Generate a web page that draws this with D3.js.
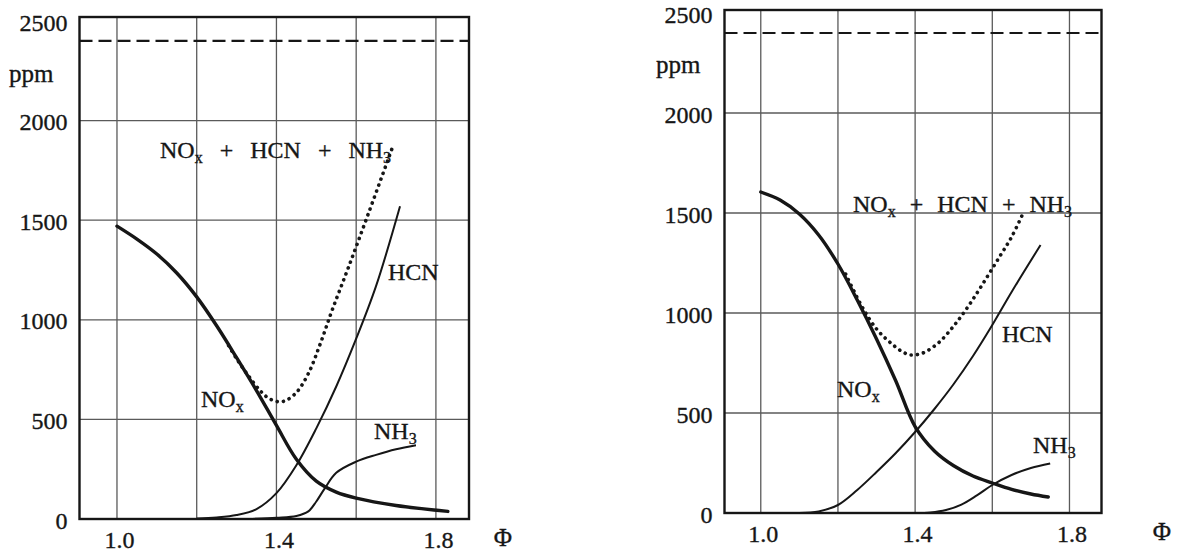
<!DOCTYPE html>
<html>
<head>
<meta charset="utf-8">
<script src="https://cdn.jsdelivr.net/npm/d3@7"></script>
<style>
  html, body { margin: 0; padding: 0; background: #fff; }
  svg { display: block; }
  text { font-family: "Liberation Serif", "Times New Roman", serif; fill: #161616; stroke: #161616; stroke-width: 0.35px; }
</style>
</head>
<body>
<svg id="chart" width="1181" height="555"></svg>
<script>
// ---------- DATA ----------
const yTicks = [0, 500, 1000, 1500, 2000, 2500];
const yGrid = [500, 1000, 1500, 2000];
const xTickLabels = [1.0, 1.4, 1.8];
const xGrid = [1.0, 1.2, 1.4, 1.6, 1.8];

// Left panel
const noxA_phi = [1.0, 1.05, 1.1, 1.15, 1.2, 1.25, 1.3, 1.35, 1.4, 1.45, 1.5, 1.55, 1.6, 1.7, 1.83];
const noxA     = [1470, 1405, 1330, 1235, 1115, 970, 810, 645, 470, 300, 190, 135, 105, 68, 38];
const hcnA_phi = [1.2, 1.25, 1.3, 1.35, 1.4, 1.45, 1.5, 1.55, 1.6, 1.65, 1.71];
const hcnA     = [3, 8, 20, 50, 130, 270, 455, 665, 905, 1170, 1570];
const nh3A_phi = [1.33, 1.4, 1.45, 1.48, 1.5, 1.52, 1.55, 1.6, 1.65, 1.7, 1.75];
const nh3A     = [0, 6, 15, 38, 88, 150, 232, 288, 322, 350, 370];
const sumA_phi = [1.28, 1.3, 1.33, 1.36, 1.38, 1.4, 1.42, 1.45, 1.48, 1.51, 1.54, 1.58, 1.63, 1.69];
const sumA     = [870, 805, 718, 642, 607, 590, 592, 635, 730, 880, 1050, 1260, 1530, 1860];
const limitA = 2400;

// Right panel
const noxB_phi = [1.0, 1.05, 1.1, 1.15, 1.2, 1.25, 1.3, 1.35, 1.4, 1.45, 1.5, 1.55, 1.6, 1.65, 1.7, 1.745];
const noxB     = [1605, 1565, 1495, 1390, 1245, 1065, 870, 660, 432, 310, 236, 185, 150, 118, 95, 80];
const hcnB_phi = [1.1, 1.15, 1.2, 1.25, 1.3, 1.35, 1.4, 1.45, 1.5, 1.55, 1.6, 1.65, 1.725];
const hcnB     = [0, 8, 40, 115, 205, 300, 405, 520, 645, 785, 940, 1105, 1340];
const nh3B_phi = [1.4, 1.44, 1.48, 1.52, 1.56, 1.6, 1.65, 1.7, 1.75];
const nh3B     = [0, 3, 15, 42, 88, 140, 190, 225, 248];
const sumB_phi = [1.22, 1.26, 1.3, 1.34, 1.37, 1.39, 1.42, 1.46, 1.5, 1.54, 1.58, 1.62, 1.65, 1.68];
const sumB     = [1195, 1040, 920, 845, 803, 790, 800, 850, 935, 1040, 1160, 1285, 1380, 1500];
const limitB = 2400;

// ---------- DRAWING ----------
const svg = d3.select("#chart");
const ink = "#161616", gridInk = "#5a5a5a";

function panel(cfg) {
  const x = d3.scaleLinear().domain([0.906, 1.883]).range([cfg.x0, cfg.x1]);
  const y = d3.scaleLinear().domain([0, 2500]).range([cfg.y0, cfg.y2500]);
  const yTop = y(cfg.frameTop);
  const g = svg.append("g");

  // grid
  g.selectAll(".vg").data(xGrid).join("line")
    .attr("x1", d => x(d)).attr("x2", d => x(d))
    .attr("y1", y(0)).attr("y2", yTop)
    .attr("stroke", gridInk).attr("stroke-width", 1.3);
  g.selectAll(".hg").data(yGrid).join("line")
    .attr("x1", x.range()[0]).attr("x2", x.range()[1])
    .attr("y1", d => y(d)).attr("y2", d => y(d))
    .attr("stroke", gridInk).attr("stroke-width", 1.3);

  // axes (labels only, no tick marks)
  const yAxis = d3.axisLeft(y).tickValues(yTicks).tickSize(0).tickPadding(12).tickFormat(d3.format("d"));
  const ya = g.append("g").attr("transform", `translate(${cfg.x0},0)`).call(yAxis);
  ya.select(".domain").remove();
  ya.selectAll("text").attr("font-size", 24).attr("font-family", "Liberation Serif").attr("fill", ink)
    .attr("dy", "0.38em");

  const xAxis = d3.axisBottom(x).tickValues(xTickLabels).tickSize(0).tickPadding(12).tickFormat(d3.format(".1f"));
  const xa = g.append("g").attr("transform", `translate(0,${cfg.y0})`).call(xAxis);
  xa.select(".domain").remove();
  xa.selectAll("text").attr("font-size", 24).attr("font-family", "Liberation Serif").attr("fill", ink)
    .attr("dx", 2);

  // frame
  g.append("rect").attr("x", cfg.x0).attr("y", yTop)
    .attr("width", cfg.x1 - cfg.x0).attr("height", cfg.y0 - yTop)
    .attr("fill", "none").attr("stroke", ink).attr("stroke-width", 2.4);

  // dashed limit line
  g.append("line").attr("x1", cfg.x0).attr("x2", cfg.x1)
    .attr("y1", y(cfg.limit)).attr("y2", y(cfg.limit))
    .attr("stroke", ink).attr("stroke-width", 2.2).attr("stroke-dasharray", "13,6");

  const line = d3.line().x(d => x(d[0])).y(d => y(d[1])).curve(d3.curveCatmullRom.alpha(0.5));
  const zip = (a, b) => a.map((v, i) => [v, b[i]]);

  g.append("path").attr("d", line(zip(cfg.sum[0], cfg.sum[1])))
    .attr("fill", "none").attr("stroke", ink).attr("stroke-width", 3.6)
    .attr("stroke-linecap", "round").attr("stroke-dasharray", "0.1,6.2");
  g.append("path").attr("d", line(zip(cfg.hcn[0], cfg.hcn[1])))
    .attr("fill", "none").attr("stroke", ink).attr("stroke-width", 2);
  g.append("path").attr("d", line(zip(cfg.nh3[0], cfg.nh3[1])))
    .attr("fill", "none").attr("stroke", ink).attr("stroke-width", 2);
  g.append("path").attr("d", line(zip(cfg.nox[0], cfg.nox[1])))
    .attr("fill", "none").attr("stroke", ink).attr("stroke-width", 3.4).attr("stroke-linecap", "round");

  // text labels
  function chem(px, py, parts, ws) {
    const t = g.append("text").attr("x", px).attr("y", py).attr("font-size", 24)
      .attr("word-spacing", ws || 0);
    parts.forEach(p => {
      if (p.sub) t.append("tspan").text(p.t).attr("font-size", 16).attr("dy", 5);
      else t.append("tspan").text(p.t).attr("dy", p.after ? -5 : 0);
    });
    return t;
  }
  const L = cfg.labels;
  chem(L.sum[0], L.sum[1], [{t:"NO"},{t:"x",sub:true},{t:" + HCN + NH",after:true},{t:"3",sub:true}], L.sum[2]);
  chem(L.hcn[0], L.hcn[1], [{t:"HCN"}]);
  chem(L.nox[0], L.nox[1], [{t:"NO"},{t:"x",sub:true}]);
  chem(L.nh3[0], L.nh3[1], [{t:"NH"},{t:"3",sub:true}]);

  g.append("text").attr("x", L.ppm[0]).attr("y", L.ppm[1]).attr("font-size", 25).text("ppm");
  g.append("text").attr("x", L.phi[0]).attr("y", L.phi[1]).attr("font-size", 25)
    .attr("text-anchor", "middle").text("Φ");
}

panel({
  x0: 79.5, x1: 469, y0: 519, y2500: 21, frameTop: 2520, limit: limitA,
  nox: [noxA_phi, noxA], hcn: [hcnA_phi, hcnA], nh3: [nh3A_phi, nh3A], sum: [sumA_phi, sumA],
  labels: { sum: [160, 158, 11], hcn: [388, 280], nox: [201, 407], nh3: [374, 439],
            ppm: [9, 82], phi: [503, 546] }
});
panel({
  x0: 724.5, x1: 1101.5, y0: 513, y2500: 13, frameTop: 2515, limit: limitB,
  nox: [noxB_phi, noxB], hcn: [hcnB_phi, hcnB], nh3: [nh3B_phi, nh3B], sum: [sumB_phi, sumB],
  labels: { sum: [853, 212, 8], hcn: [1002, 342], nox: [837, 397], nh3: [1033, 453],
            ppm: [656, 73], phi: [1162, 540] }
});
</script>
</body>
</html>
